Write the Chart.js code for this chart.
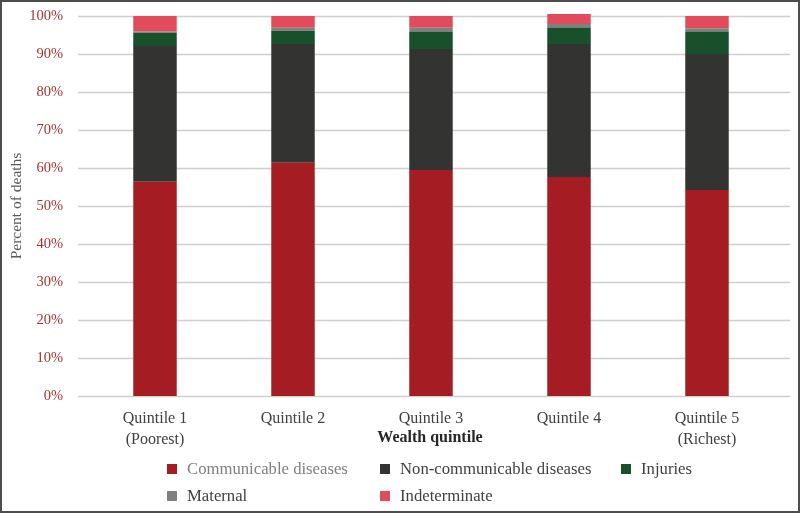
<!DOCTYPE html>
<html>
<head>
<meta charset="utf-8">
<script src="https://cdn.jsdelivr.net/npm/chart.js@4.4.0/dist/chart.umd.min.js"></script>
<style>
    html, body { margin: 0; padding: 0; background: #ffffff; }
    #wrap { position: relative; width: 800px; height: 513px; font-family: "Liberation Serif", serif; }
    #frame { position: absolute; left: 0; top: 0; width: 800px; height: 513px; box-sizing: border-box; border: 2px solid #4d4d4d; pointer-events: none; }
    .axis-title { position: absolute; font-weight: bold; font-size: 16px; color: #262626; white-space: nowrap; transform: translate(-50%, -50%); }
    .legend-item { position: absolute; font-size: 16.7px; color: #404040; white-space: nowrap; transform: translateY(-50%); }
    .legend-item i { display: inline-block; width: 10px; height: 10px; margin-right: 10px; vertical-align: 0px; }
</style>
</head>
<body>
<div id="wrap">
    <canvas id="deathsChart" width="800" height="513"></canvas>
    <div class="axis-title" style="left:430px; top:437px;">Wealth quintile</div>
    <div id="legend"></div>
    <div id="frame"></div>
</div>
<script>
// Categories and series (percent of deaths)
const categories = [['Quintile 1', '(Poorest)'], 'Quintile 2', 'Quintile 3', 'Quintile 4', ['Quintile 5', '(Richest)']];
const communicable = [56.4, 61.4, 59.5, 57.6, 54.2];
const nonCommunicable = [35.7, 31.2, 31.8, 35.0, 35.8];
const injuries = [3.5, 3.5, 4.6, 4.4, 5.9];
const maternal = [0.3, 0.8, 1.0, 0.9, 0.9];
const indeterminate = [4.1, 3.1, 3.1, 2.6, 3.2];
const yTicks = [0, 10, 20, 30, 40, 50, 60, 70, 80, 90, 100];

const seriesNames = ['Communicable diseases', 'Non-communicable diseases', 'Injuries', 'Maternal', 'Indeterminate'];
const seriesColors = ['#A51D23', '#333332', '#17502B', '#7F7F7F', '#E24B5B'];
const seriesData = [communicable, nonCommunicable, injuries, maternal, indeterminate];

// Horizontal gridlines drawn from the y scale, a bit wider than the plot area
const gridPlugin = {
    id: 'wideGrid',
    beforeDatasetsDraw(chart) {
        const ctx = chart.ctx;
        const y = chart.scales.y;
        ctx.save();
        ctx.strokeStyle = '#cfcfcf';
        ctx.lineWidth = 1.5;
        yTicks.forEach(v => {
            const py = Math.round(y.getPixelForValue(v)) + 0.5;
            ctx.beginPath();
            ctx.moveTo(78, py);
            ctx.lineTo(790, py);
            ctx.stroke();
        });
        ctx.restore();
    }
};

new Chart(document.getElementById('deathsChart'), {
    type: 'bar',
    data: {
        labels: categories,
        datasets: seriesData.map((d, i) => ({
            label: seriesNames[i],
            data: d,
            backgroundColor: seriesColors[i],
            borderWidth: 0,
            categoryPercentage: 1,
            barPercentage: 0.315,
            clip: false
        }))
    },
    options: {
        responsive: false,
        animation: false,
        layout: { padding: { top: 16, right: 24, bottom: 0, left: 0 } },
        plugins: {
            legend: { display: false },
            tooltip: { enabled: false }
        },
        scales: {
            x: {
                stacked: true,
                grid: { display: false },
                border: { display: false },
                ticks: {
                    color: '#404040',
                    padding: 4,
                    maxRotation: 0,
                    font: { family: 'Liberation Serif', size: 16, lineHeight: 1.32 }
                },
                afterFit(scale) {
                    scale.height = 117;
                    scale.paddingLeft = 0;
                    scale.paddingRight = 0;
                }
            },
            y: {
                stacked: true,
                min: 0,
                max: 100,
                grid: { display: false },
                border: { display: false },
                afterBuildTicks(scale) { scale.ticks = yTicks.map(v => ({ value: v })); },
                ticks: {
                    color: '#A83232',
                    padding: 15,
                    font: { family: 'Liberation Serif', size: 14.5 },
                    callback: v => v + '%'
                },
                title: {
                    display: true,
                    text: 'Percent of deaths',
                    color: '#595959',
                    padding: { top: 8, bottom: 0 },
                    font: { family: 'Liberation Serif', size: 15.5 }
                },
                afterFit(scale) {
                    scale.width = 86;
                    scale.paddingTop = 0;
                    scale.paddingBottom = 0;
                }
            }
        }
    },
    plugins: [gridPlugin]
});

// Legend laid out in a grid, as in the original
const legendPos = [[167, 469], [380, 469], [621, 469], [167, 496], [380, 496]];
const legendEl = document.getElementById('legend');
seriesNames.forEach((name, i) => {
    const item = document.createElement('div');
    item.className = 'legend-item';
    item.style.left = legendPos[i][0] + 'px';
    item.style.top = legendPos[i][1] + 'px';
    if (i === 0) item.style.color = '#7f7f7f';
    item.innerHTML = '<i style="background:' + seriesColors[i] + '"></i>' + name;
    legendEl.appendChild(item);
});
</script>
</body>
</html>
